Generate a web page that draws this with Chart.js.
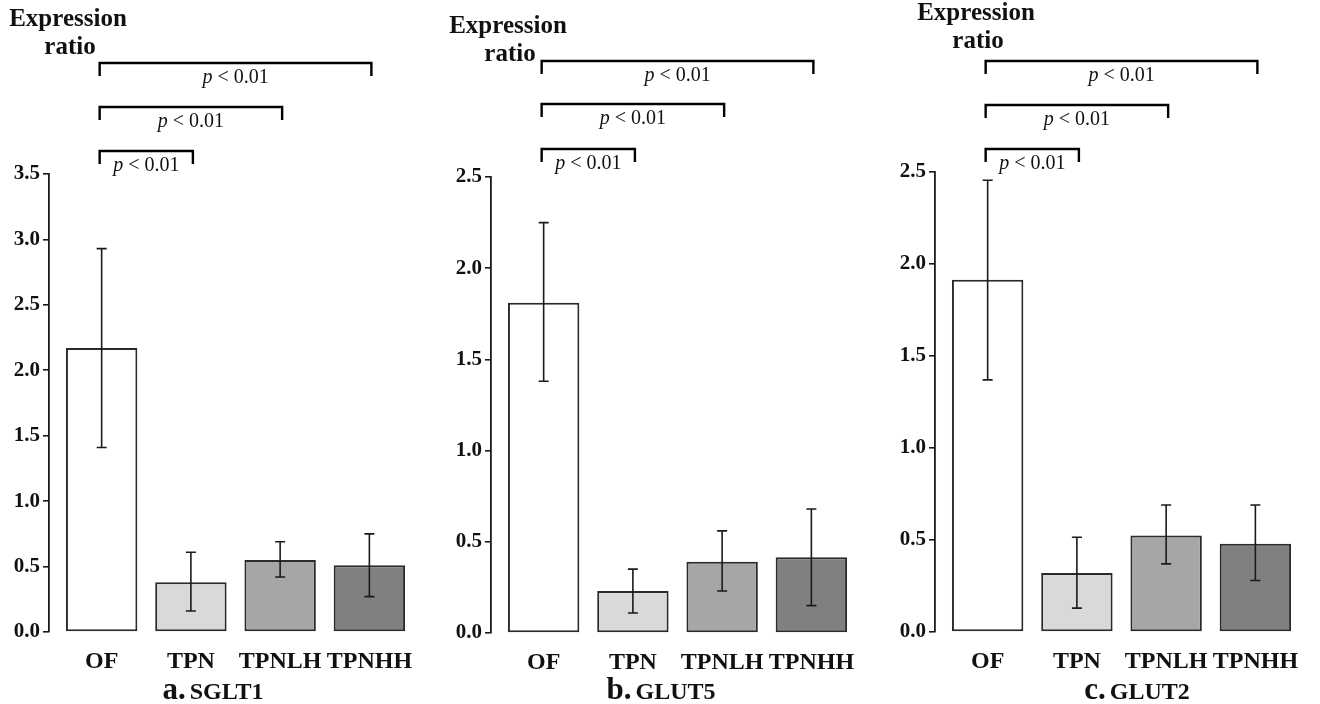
<!DOCTYPE html>
<html>
<head>
<meta charset="utf-8">
<script src="https://cdn.jsdelivr.net/npm/chart.js@4.4.1/dist/chart.umd.min.js"></script>
<style>
  body { margin: 0; background: #fff; }
  .panel { position: absolute; top: 0; width: 430px; height: 704px; }
</style>
</head>
<body>
<div class="panel" style="left:0px"><canvas id="sglt1" width="430" height="704"></canvas></div>
<div class="panel" style="left:442px"><canvas id="glut5" width="430" height="704"></canvas></div>
<div class="panel" style="left:886px"><canvas id="glut2" width="430" height="704"></canvas></div>
<script>
var groups = ['OF', 'TPN', 'TPNLH', 'TPNHH'];
var barColors = ['#ffffff', '#d9d9d9', '#a6a6a6', '#808080'];

var sglt1Mean = [2.17, 0.38, 0.55, 0.51];
var sglt1Upper = [2.93, 0.61, 0.69, 0.75];
var sglt1Lower = [1.41, 0.16, 0.42, 0.27];

var glut5Mean = [1.81, 0.23, 0.39, 0.415];
var glut5Upper = [2.25, 0.35, 0.56, 0.68];
var glut5Lower = [1.38, 0.11, 0.23, 0.15];

var glut2Mean = [1.915, 0.32, 0.525, 0.48];
var glut2Upper = [2.455, 0.515, 0.69, 0.69];
var glut2Lower = [1.37, 0.13, 0.37, 0.28];

// each bracket compares OF with another group
var bracketTargets = [3, 2, 1];
var pLabel = '< 0.01';

var serif = '"Liberation Serif", "Times New Roman", serif';

// draws error bars, significance brackets, axis title and caption
var annotPlugin = {
	id: 'annot',
	afterDatasetsDraw: function(chart, args, opts) {
		var ctx = chart.ctx;
		var xs = chart.scales.x;
		var ys = chart.scales.y;
		var meta = chart.getDatasetMeta(0);

		ctx.save();
		ctx.strokeStyle = '#1a1a1a';
		ctx.lineWidth = 1.6;
		meta.data.forEach(function(bar, i) {
			var x = bar.x;
			var hi = ys.getPixelForValue(opts.upper[i]);
			var lo = ys.getPixelForValue(opts.lower[i]);
			ctx.beginPath();
			ctx.moveTo(x, hi); ctx.lineTo(x, lo);
			ctx.moveTo(x - 5, hi); ctx.lineTo(x + 5, hi);
			ctx.moveTo(x - 5, lo); ctx.lineTo(x + 5, lo);
			ctx.stroke();
		});

		// brackets
		ctx.lineWidth = 2.4;
		ctx.strokeStyle = '#000';
		ctx.fillStyle = '#111';
		ctx.textBaseline = 'middle';
		bracketTargets.forEach(function(t, k) {
			var x0 = xs.getPixelForValue(0) - 2;
			var x1 = xs.getPixelForValue(t) + 2;
			var y = opts.bracketY[k];
			ctx.beginPath();
			ctx.moveTo(x0, y + 13); ctx.lineTo(x0, y); ctx.lineTo(x1, y); ctx.lineTo(x1, y + 13);
			ctx.stroke();
			ctx.font = 'italic 20px ' + serif;
			var wp = ctx.measureText('p ').width;
			ctx.font = '20px ' + serif;
			var wr = ctx.measureText(pLabel).width;
			var start = (x0 + x1) / 2 - (wp + wr) / 2;
			ctx.textAlign = 'left';
			ctx.font = 'italic 20px ' + serif;
			ctx.fillText('p', start, y + 15);
			ctx.font = '20px ' + serif;
			ctx.fillText(pLabel, start + wp, y + 15);
		});

		// y axis title
		ctx.textAlign = 'center';
		ctx.font = 'bold 25px ' + serif;
		ctx.fillText('Expression', opts.titleX, opts.titleY);
		ctx.fillText('ratio', opts.titleX + 2, opts.titleY + 28);

		// caption under the panel
		ctx.textBaseline = 'alphabetic';
		ctx.textAlign = 'left';
		ctx.font = 'bold 31px ' + serif;
		var wa = ctx.measureText(opts.letter).width;
		ctx.font = 'bold 24px ' + serif;
		var wg = ctx.measureText(opts.gene).width;
		var cx = opts.captionX - (wa + 4 + wg) / 2;
		ctx.font = 'bold 31px ' + serif;
		ctx.fillText(opts.letter, cx, 699);
		ctx.font = 'bold 24px ' + serif;
		ctx.fillText(opts.gene, cx + wa + 4, 699);
		ctx.restore();
	}
};

function makeChart(id, mean, upper, lower, yMax, top, bottom, bracketY, titleX, titleY, letter, gene, captionX) {
	var points = [];
	for (var i in mean) {
		points.push({x: Number(i), y: mean[i]});
	}
	return new Chart(document.getElementById(id), {
		type: 'bar',
		data: {
			datasets: [{
				data: points,
				backgroundColor: barColors,
				borderColor: '#2a2a2a',
				borderWidth: 2,
				borderSkipped: false,
				categoryPercentage: 1,
				barPercentage: 0.8
			}]
		},
		options: {
			responsive: false,
			animation: false,
			layout: { padding: { top: top, right: 16, left: 0, bottom: 0 } },
			plugins: {
				legend: { display: false },
				tooltip: { enabled: false },
				annot: {
					upper: upper, lower: lower, bracketY: bracketY,
					titleX: titleX, titleY: titleY,
					letter: letter, gene: gene, captionX: captionX
				}
			},
			scales: {
				x: {
					type: 'linear',
					offset: false,
					min: -0.59,
					max: 3.5,
					grid: { display: false, offset: false },
					border: { display: false },
					afterBuildTicks: function(s) {
						s.ticks = groups.map(function(g, k) { return {value: k}; });
					},
					afterFit: function(s) { s.height = 704 - bottom; },
					ticks: {
						padding: 7,
						color: '#111',
						maxRotation: 0,
						autoSkip: false,
						font: { family: serif, weight: 'bold', size: 24 },
						callback: function(v) { return groups[v]; }
					}
				},
				y: {
					min: 0,
					max: yMax,
					afterFit: function(s) { s.width = 49; },
					grid: { drawOnChartArea: false, drawTicks: true, tickLength: 6, color: '#1a1a1a', lineWidth: 1.6 },
					border: { display: true, color: '#1a1a1a', width: 1.8 },
					ticks: {
						stepSize: 0.5,
						padding: 3,
						color: '#111',
						font: { family: serif, weight: 'bold', size: 21 },
						callback: function(v) { return v.toFixed(1); }
					}
				}
			}
		},
		plugins: [annotPlugin]
	});
}

makeChart('sglt1', sglt1Mean, sglt1Upper, sglt1Lower, 3.5, 174, 632, [63, 107, 151], 68, 20, 'a.', 'SGLT1', 213);
makeChart('glut5', glut5Mean, glut5Upper, glut5Lower, 2.5, 177, 633, [61, 104, 149], 66, 27, 'b.', 'GLUT5', 219);
makeChart('glut2', glut2Mean, glut2Upper, glut2Lower, 2.5, 172, 632, [61, 105, 149], 90, 14, 'c.', 'GLUT2', 251);
</script>
</body>
</html>
